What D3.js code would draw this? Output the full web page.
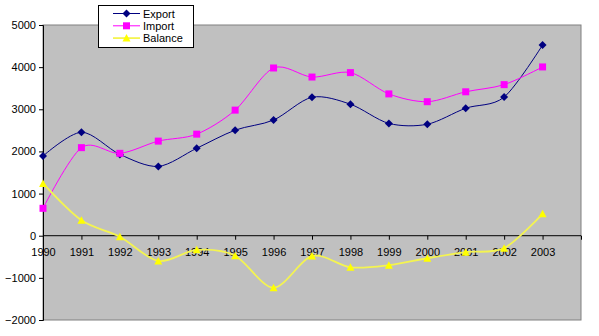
<!DOCTYPE html>
<html><head><meta charset="utf-8">
<script src="https://cdn.jsdelivr.net/npm/d3@7"></script>
<style>body{margin:0;background:#fff}svg{display:block}text{font-family:Arial,"Liberation Sans",sans-serif;font-size:11px;fill:#000}</style>
</head><body>
<script>
const years = [1990,1991,1992,1993,1994,1995,1996,1997,1998,1999,2000,2001,2002,2003];
const exportVals = [1890,2455,1930,1645,2075,2505,2745,3285,3120,2665,2645,3025,3290,4525];
const importVals = [650,2090,1955,2245,2410,2980,3980,3765,3870,3365,3180,3415,3585,4005];
const balanceVals = [1240,365,-25,-600,-335,-475,-1235,-480,-750,-700,-535,-390,-295,520];
const yTicks = [-2000,-1000,0,1000,2000,3000,4000,5000];
const seriesNames = ["Export","Import","Balance"];

const W=599,H=336;
const svg=d3.select("body").append("svg").attr("width",W).attr("height",H);
const L=43,R=581,T=25,B=320;
const x=d3.scaleLinear().domain([1990,2004]).range([L,R]);
const y=d3.scaleLinear().domain([-2000,5000]).range([B,T]);

svg.append("rect").attr("x",L).attr("y",T).attr("width",R-L).attr("height",B-T)
  .attr("fill","#C0C0C0").attr("stroke","#808080").attr("stroke-width",1);

// y axis
const ya=svg.append("g").attr("transform",`translate(${L},0)`)
  .call(d3.axisLeft(y).tickValues(yTicks).tickSize(4).tickPadding(3).tickFormat(d3.format("d")));
ya.select(".domain").attr("stroke","#000");
ya.selectAll("text").style("font-size","11px").style("font-family","Arial, 'Liberation Sans', sans-serif");

// x axis at zero
const xa=svg.append("g").attr("transform",`translate(0,${y(0)})`)
  .call(d3.axisBottom(x).tickValues(d3.range(1990,2005)).tickSize(4).tickPadding(8)
    .tickFormat(d=>years.includes(d)?d:""));
xa.select(".domain").attr("stroke","#000").attr("d",`M${L},0H${R}`);
xa.selectAll("text").style("font-size","11px").style("font-family","Arial, 'Liberation Sans', sans-serif");

const series=[
 {name:seriesNames[0],vals:exportVals,color:"#000080",lc:"#000080",w:1,shape:"diamond"},
 {name:seriesNames[1],vals:importVals,color:"#FF00FF",lc:"#FF00FF",w:1,shape:"square"},
 {name:seriesNames[2],vals:balanceVals,color:"#FFFF00",lc:"#F4F450",w:1.8,shape:"triangle"}
];
const line=d3.line().x((d,i)=>x(years[i])).y(d=>y(d)).curve(d3.curveCardinal.tension(0.1));

function marker(g,shape,color,cx,cy){
  if(shape==="diamond") g.append("path").attr("d",`M${cx},${cy-4}L${cx+4},${cy}L${cx},${cy+4}L${cx-4},${cy}Z`).attr("fill",color);
  else if(shape==="square") g.append("rect").attr("x",cx-3.5).attr("y",cy-3.5).attr("width",7).attr("height",7).attr("fill",color);
  else g.append("path").attr("d",`M${cx},${cy-4}L${cx+4},${cy+3.5}L${cx-4},${cy+3.5}Z`).attr("fill",color);
}

series.forEach(s=>{
  svg.append("path").datum(s.vals).attr("d",line).attr("fill","none").attr("stroke",s.lc).attr("stroke-width",s.w);
});
series.forEach(s=>{
  const g=svg.append("g");
  s.vals.forEach((v,i)=>marker(g,s.shape,s.color,x(years[i]),y(v)));
});

// legend
const lg=svg.append("g");
lg.append("rect").attr("x",98.5).attr("y",5.5).attr("width",95).attr("height",42).attr("fill","#fff").attr("stroke","#000");
series.forEach((s,i)=>{
  const cy=13.5+i*12.3;
  lg.append("line").attr("x1",113).attr("x2",140).attr("y1",cy).attr("y2",cy).attr("stroke",s.lc).attr("stroke-width",s.w);
  marker(lg,s.shape,s.color,126.5,cy);
  lg.append("text").attr("x",143).attr("y",cy+4).text(s.name);
});
</script>
</body></html>
